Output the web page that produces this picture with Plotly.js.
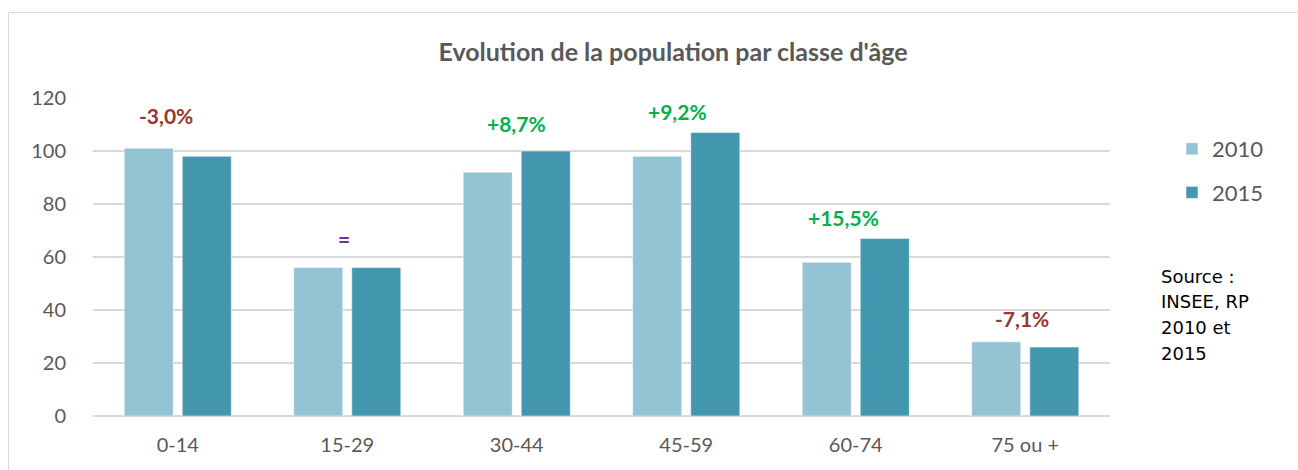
<!DOCTYPE html>
<html>
<head>
<meta charset="utf-8">
<script src="https://cdn.plot.ly/plotly-3.0.1.min.js"></script>
<style>
  html, body { margin: 0; padding: 0; background: #fff; }
  #chart { width: 1298px; height: 470px; }
</style>
</head>
<body>
<div id="chart"></div>
<script>
// ---- Data ----
const categories = ['0-14', '15-29', '30-44', '45-59', '60-74', '75 ou +'];
const values2010 = [101, 56, 92, 98, 58, 28];
const values2015 = [98, 56, 100, 107, 67, 26];
const seriesNames = ['2010', '2015'];
const changeLabels = ['-3,0%', '=', '+8,7%', '+9,2%', '+15,5%', '-7,1%'];
const changeKinds = ['down', 'same', 'up', 'up', 'up', 'down'];
const yTicks = [0, 20, 40, 60, 80, 100, 120];
const titleText = "Evolution de la population par classe d'âge";
const sourceLines = ['Source :', 'INSEE, RP', '2010 et', '2015'];

// ---- Styles ----
const colors = { '2010': '#94c3d4', '2015': '#4398b0' };
const labelColors = { down: '#953735', same: '#7030a0', up: '#00b050' };
const labelShiftX = [-12, -3, 0, -9, -12, -3];
const labelShiftY = [18, 15, 13, 6, 6, 9];
const textGray = '#595959';
const gridGray = '#d9d9d9';
const FONT = 'Lato, "Open Sans", sans-serif';

// layout geometry (pixels)
const W = 1298, H = 470;
const plotL = 93, plotR = 1110, plotT = 98, plotB = 416;
const pw = plotR - plotL, ph = plotB - plotT;
const px2paperX = p => (p - plotL) / pw;
const px2paperY = p => (plotB - p) / ph;

const traces = [
  {
    type: 'bar', name: seriesNames[0], x: categories, y: values2010,
    marker: { color: colors['2010'], line: { width: 1, color: 'rgba(255,255,255,0.5)' } },
    legendgroup: 'a', hoverinfo: 'none'
  },
  {
    type: 'bar', name: seriesNames[1], x: categories, y: values2015,
    marker: { color: colors['2015'], line: { width: 1, color: 'rgba(255,255,255,0.5)' } },
    legendgroup: 'b', hoverinfo: 'none'
  }
];

const annotations = categories.map((c, i) => ({
  x: c, y: Math.max(values2010[i], values2015[i]),
  xref: 'x', yref: 'y',
  text: '<b>' + changeLabels[i] + '</b>',
  showarrow: false, yanchor: 'bottom',
  xshift: labelShiftX[i], yshift: labelShiftY[i],
  font: { family: FONT, size: 21, color: labelColors[changeKinds[i]] }
}));

sourceLines.forEach((line, k) => {
  annotations.push({
    xref: 'paper', yref: 'paper',
    x: px2paperX(1159), y: px2paperY(276 + 25.7 * k),
    xanchor: 'left', yanchor: 'middle', align: 'left',
    text: line, showarrow: false,
    font: { family: '"DejaVu Sans", Verdana, sans-serif', size: 18, color: '#000' }
  });
});

const layout = {
  width: W, height: H,
  margin: { l: plotL, r: W - plotR, t: plotT, b: H - plotB, pad: 0 },
  paper_bgcolor: '#fff', plot_bgcolor: '#fff',
  title: {
    text: '<b>' + titleText + '</b>',
    font: { family: FONT, size: 25, color: textGray },
    x: px2paperX(673), xref: 'paper', xanchor: 'center',
    y: 1 - 52 / H, yanchor: 'middle'
  },
  showlegend: true,
  legend: {
    x: px2paperX(1172), xanchor: 'left',
    y: px2paperY(128), yanchor: 'top',
    font: { family: FONT, size: 22, color: textGray },
    traceorder: 'grouped', tracegroupgap: 12,
    itemwidth: 30
  },
  bargap: 0.315, bargroupgap: 0.155,
  xaxis: {
    type: 'category',
    showgrid: false, zeroline: false, showline: false,
    ticks: 'outside', ticklen: 11, tickcolor: 'rgba(0,0,0,0)',
    tickfont: { family: FONT, size: 20, color: textGray },
    fixedrange: true
  },
  yaxis: {
    range: [0, 120],
    tickvals: yTicks,
    showgrid: true, gridcolor: gridGray, gridwidth: 1.5,
    zeroline: true, zerolinecolor: gridGray, zerolinewidth: 2,
    showline: false,
    ticks: 'outside', ticklen: 22, tickcolor: 'rgba(0,0,0,0)',
    tickfont: { family: FONT, size: 20, color: textGray },
    fixedrange: true
  },
  annotations: annotations,
  shapes: [{
    type: 'rect', xref: 'paper', yref: 'paper', layer: 'below',
    x0: px2paperX(8.5), x1: px2paperX(W + 20),
    y0: px2paperY(H + 20), y1: px2paperY(12.5),
    line: { color: gridGray, width: 1 }, fillcolor: 'rgba(0,0,0,0)'
  }]
};

Plotly.newPlot('chart', traces, layout, { displayModeBar: false, staticPlot: true });
</script>
</body>
</html>
